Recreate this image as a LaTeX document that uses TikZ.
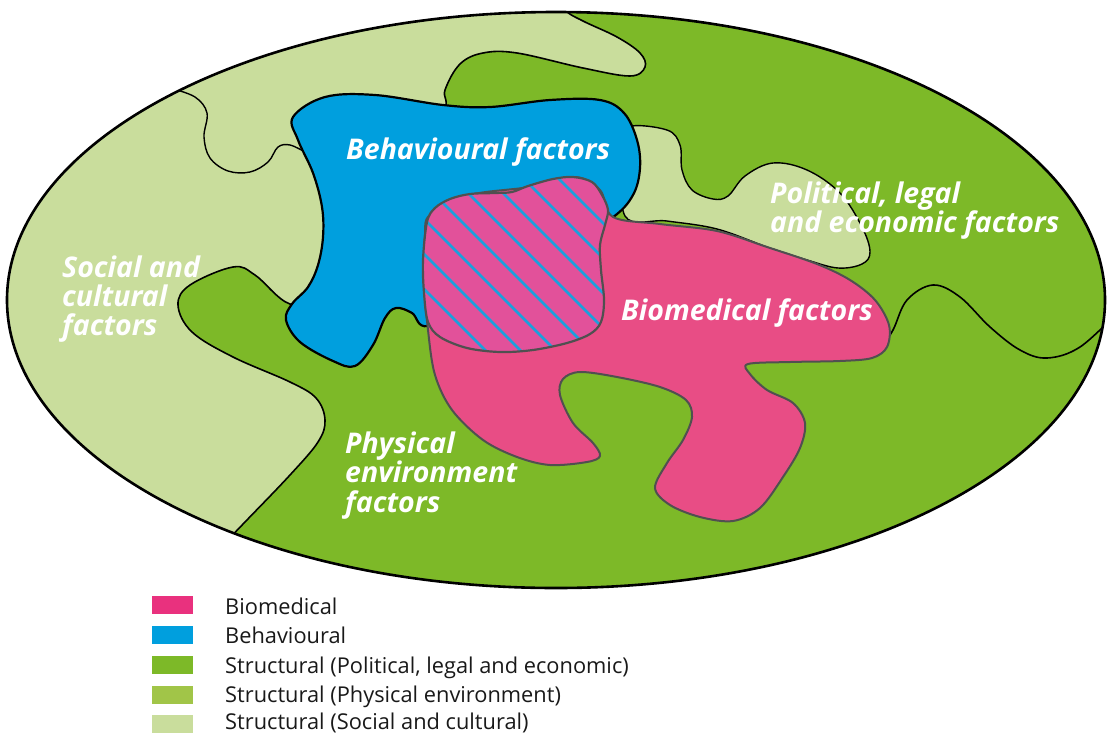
\documentclass[tikz,border=0pt]{standalone}
\usepackage{fontspec}
\setmainfont{Open Sans}
\definecolor{mapgreen}{HTML}{7DB928}
\definecolor{socialgreen}{HTML}{C9DD9C}
\definecolor{physgreen}{HTML}{A1C548}
\definecolor{behblue}{HTML}{009FDE}
\definecolor{biopink}{HTML}{E84D85}
\definecolor{legpink}{HTML}{E9317E}
\definecolor{overlappink}{HTML}{E2519A}
\definecolor{hatchblue}{HTML}{1BA0DC}
\definecolor{edgegray}{HTML}{505050}
\begin{document}
\begin{tikzpicture}[x=1pt,y=-1pt,
  border/.style={line width=1.6pt, line join=round, draw=black},
  softborder/.style={line width=2pt, line join=round, draw=edgegray},
  lbl/.style={text=white, font=\fontsize{28.5}{30}\selectfont\bfseries\itshape, anchor=base west, inner sep=0pt},
  legtxt/.style={font=\fontsize{21.8}{24}\selectfont, anchor=base west, inner sep=0pt, text=black!90},
  swatch/.style={minimum width=41pt, minimum height=18pt, inner sep=0pt, anchor=west}
]
\useasboundingbox (0,0) rectangle (1107,734);
% base ellipse
\fill[mapgreen] (556,300) ellipse [x radius=549, y radius=288];
\begin{scope}
\clip (556,300) ellipse [x radius=549, y radius=288];
% social and cultural (left + top strip)
\filldraw[fill=socialgreen, border] plot[smooth, tension=0.6] coordinates {
 (220,548) (245,522) (290,475) (318,442) (325,420) (316,398) (290,382) (233,357)
 (192,332) (178,305) (190,285) (233,267) (255,275) (290,304) (330,300) (370,250)
 (400,160) (443,112) (445,90) (460,64) (483,53) (517,53) (583,68) (630,76) (645,67)
 (640,53) (617,37) (583,21) (565,10) (550,-12)}
 -- (540,-40) -- (-40,-40) -- (-40,700) -- cycle;
% thin line in the top strip
\draw[border, line width=1.4pt] plot[smooth, tension=0.6] coordinates {
 (170,88) (195,97) (207,113) (204,137) (210,158) (228,171) (250,172) (268,162)
 (278,147) (290,145) (305,152)};
% political, legal and economic blob
\filldraw[fill=socialgreen, border, line width=1.4pt] plot[smooth cycle, tension=0.6] coordinates {
 (625,150) (628,127) (667,130) (680,145) (682,170) (692,190) (713,199) (728,196)
 (745,176) (773,163) (807,170) (840,193) (862,227) (870,252) (862,264) (838,268)
 (807,260) (767,247) (717,229) (667,221) (625,216)};
% wavy line on the right
\draw[border] plot[smooth, tension=0.6] coordinates {
 (880,350) (893,330) (907,300) (933,285) (960,297) (990,327) (1020,350) (1047,358)
 (1080,347) (1118,312)};
% behavioural
\filldraw[fill=behblue, border, line width=2.2pt] plot[smooth cycle, tension=0.6] coordinates {
 (293,117) (325,97) (375,95) (443,105) (490,107) (550,100) (600,100) (624,113)
 (637,140) (640,168) (633,195) (612,218) (560,250) (480,300) (428,326) (412,313)
 (396,308) (385,318) (373,345) (355,366) (333,361) (300,342) (286,320) (292,304)
 (308,287) (318,265) (323,237) (322,207) (313,173) (298,140)};
% biomedical
\filldraw[fill=biopink, softborder] plot[smooth cycle, tension=0.55] coordinates {
 (430,215) (470,195) (530,187) (575,177) (600,190) (613,217) (660,224) (717,231)
 (767,247) (817,264) (850,280) (875,300) (889,325) (887,347) (872,358) (840,361)
 (790,362) (748,364) (750,374) (767,390) (793,403) (805,423) (800,448) (783,477)
 (760,508) (733,521) (700,517) (670,505) (655,488) (667,463) (683,440) (692,417)
 (686,400) (660,387) (617,377) (580,372) (563,379) (560,395) (573,423) (593,443)
 (600,456) (587,462) (550,465) (517,457) (483,440) (452,410) (435,375) (428,330)
 (424,280) (425,235)};
% overlap (hatched)
\path[fill=overlappink] plot[smooth cycle, tension=0.55] coordinates {
 (427,222) (435,208) (450,199) (470,194) (495,193) (512,192) (528,186) (553,179)
 (573,177) (592,182) (602,195) (608,210) (605,225) (600,245) (601,270) (604,300)
 (601,322) (590,334) (567,343) (533,350) (500,352) (467,348) (440,337) (428,322)
 (424,293) (423,260)};
\begin{scope}
\clip plot[smooth cycle, tension=0.55] coordinates {
 (427,222) (435,208) (450,199) (470,194) (495,193) (512,192) (528,186) (553,179)
 (573,177) (592,182) (602,195) (608,210) (605,225) (600,245) (601,270) (604,300)
 (601,322) (590,334) (567,343) (533,350) (500,352) (467,348) (440,337) (428,322)
 (424,293) (423,260)};
\foreach \c in {-380,-345,-310,-275,-240,-205,-170,-135}
  \draw[hatchblue, line width=2.6pt] (380,380+\c) -- (660,660+\c);
\end{scope}
\draw[softborder, line width=2.2pt] plot[smooth cycle, tension=0.55] coordinates {
 (427,222) (435,208) (450,199) (470,194) (495,193) (512,192) (528,186) (553,179)
 (573,177) (592,182) (602,195) (608,210) (605,225) (600,245) (601,270) (604,300)
 (601,322) (590,334) (567,343) (533,350) (500,352) (467,348) (440,337) (428,322)
 (424,293) (423,260)};
\end{scope}
% ellipse outline
\draw[black, line width=2.6pt] (556,300) ellipse [x radius=549, y radius=288];
% labels
\node[lbl] (beh) at (346,159) {Behavioural factors};
\node[lbl] (pol1) at (770,203) {Political, legal};
\node[lbl] (pol2) at (770,232) {and economic factors};
\node[lbl] (bio) at (621,320) {Biomedical factors};
\node[lbl] (soc1) at (62,277) {Social and};
\node[lbl] (soc2) at (62,306) {cultural};
\node[lbl] (soc3) at (62,335) {factors};
\node[lbl] (phy1) at (345,453) {Physical};
\node[lbl] (phy2) at (345,482) {environment};
\node[lbl] (phy3) at (345,512) {factors};
% legend
\node[swatch, fill=legpink] (s1) at (152,605) {};
\node[swatch, fill=behblue] (s2) at (152,635) {};
\node[swatch, fill=mapgreen] (s3) at (152,665) {};
\node[swatch, fill=physgreen] (s4) at (152,695) {};
\node[swatch, fill=socialgreen] (s5) at (152,724) {};
\node[legtxt] (t1) at (225,614) {Biomedical};
\node[legtxt] (t2) at (225,643) {Behavioural};
\node[legtxt] (t3) at (225,673) {Structural (Political, legal and economic)};
\node[legtxt] (t4) at (225,702) {Structural (Physical environment)};
\node[legtxt] (t5) at (225,729) {Structural (Social and cultural)};
\end{tikzpicture}
\end{document}
